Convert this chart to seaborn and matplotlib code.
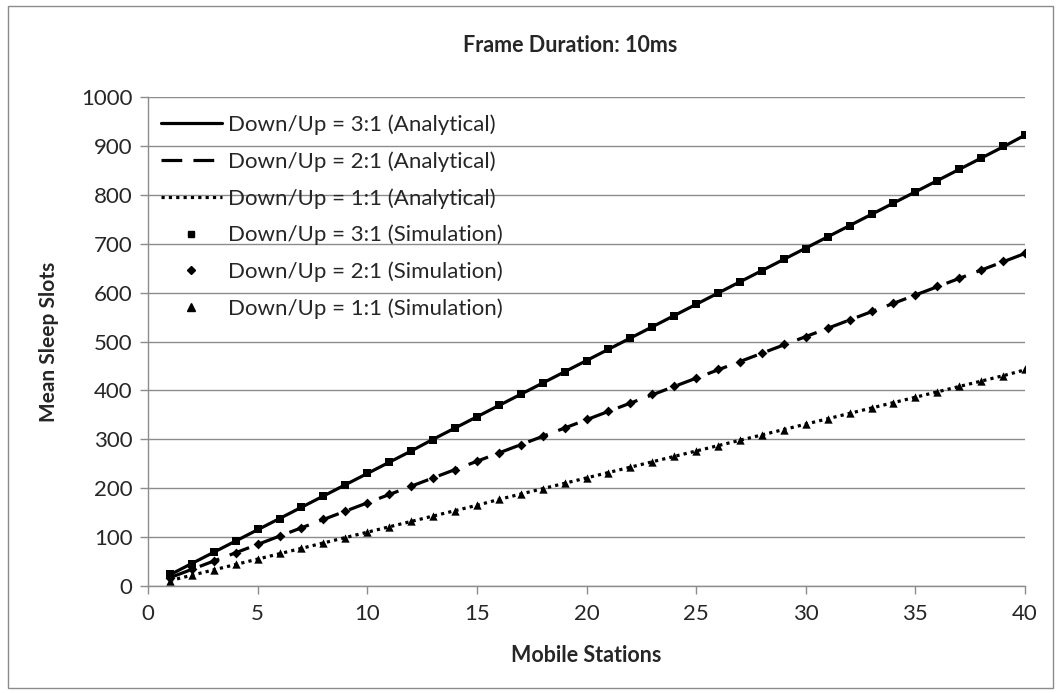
import matplotlib
matplotlib.use("Agg")
import matplotlib.pyplot as plt
import seaborn as sns
import pandas as pd
from matplotlib.patches import Rectangle
from matplotlib.lines import Line2D

stations = list(range(1, 41))
ana_31 = [23, 46, 69, 92, 115, 138, 161, 184, 207, 230, 253, 276, 300, 323, 346, 369, 392, 415, 438, 461,
          484, 507, 530, 553, 576, 599, 622, 645, 668, 691, 714, 737, 760, 783, 806, 829, 852, 875, 898, 922]
ana_21 = [17, 34, 51, 68, 85, 102, 119, 136, 153, 170, 187, 204, 221, 238, 255, 272, 289, 306, 323, 340,
          357, 374, 391, 408, 425, 442, 459, 476, 493, 510, 527, 544, 561, 578, 595, 612, 629, 646, 663, 680]
ana_11 = [11, 22, 33, 44, 55, 66, 77, 88, 99, 110, 121, 132, 143, 154, 165, 177, 188, 199, 210, 221,
          232, 243, 254, 265, 276, 287, 298, 309, 320, 331, 342, 353, 364, 375, 386, 397, 408, 419, 430, 442]
sim_31 = [24, 46, 70, 92, 116, 138, 162, 184, 207, 231, 253, 277, 299, 323, 346, 370, 392, 415, 437, 461,
          484, 508, 529, 553, 577, 599, 621, 645, 668, 690, 714, 737, 760, 783, 805, 829, 852, 876, 899, 922]
sim_21 = [17, 34, 52, 68, 86, 102, 119, 137, 153, 170, 188, 204, 221, 238, 256, 272, 289, 307, 323, 341,
          357, 374, 392, 408, 425, 443, 459, 476, 494, 510, 527, 544, 562, 578, 595, 613, 629, 646, 664, 681]
sim_11 = [11, 22, 33, 44, 55, 67, 77, 88, 99, 111, 121, 133, 143, 154, 165, 177, 188, 199, 210, 221,
          232, 244, 254, 265, 276, 287, 299, 309, 320, 331, 342, 353, 365, 375, 386, 397, 408, 420, 430, 443]

labels_ana = ["Down/Up = 3:1 (Analytical)", "Down/Up = 2:1 (Analytical)", "Down/Up = 1:1 (Analytical)"]
labels_sim = ["Down/Up = 3:1 (Simulation)", "Down/Up = 2:1 (Simulation)", "Down/Up = 1:1 (Simulation)"]

sns.set_theme(style="white")
plt.rcParams['font.family'] = ['Lato', 'DejaVu Sans']

fig = plt.figure(figsize=(10.62, 6.93), dpi=100)
ax = fig.add_axes([148/1062, 1-586/693, (1025-148)/1062, (586-97)/693])
fig.patches.append(Rectangle((8/1062, 5/693), 1045/1062, 682/693, transform=fig.transFigure,
                             fill=False, edgecolor="#8c8c8c", linewidth=1))

LW = 2.3
line_styles = ["-", (0, (6.5, 3.5)), (0, (1, 1.3))]
markers = ["s", "D", "^"]
msizes = [5.5, 5, 6]
ana = [ana_31, ana_21, ana_11]
sim = [sim_31, sim_21, sim_11]

for vals, lab, ls in zip(ana, labels_ana, line_styles):
    df = pd.DataFrame({"x": stations, "y": vals})
    sns.lineplot(data=df, x="x", y="y", ax=ax, color="black", linewidth=LW, linestyle=ls,
                 label=lab, legend=False)
for vals, lab, m, s in zip(sim, labels_sim, markers, msizes):
    df = pd.DataFrame({"x": stations, "y": vals})
    sns.scatterplot(data=df, x="x", y="y", ax=ax, color="black", marker=m, s=s**2,
                    linewidth=0, label=lab, legend=False, zorder=5)

ax.set_xlim(0, 40)
ax.set_ylim(0, 1000)
ax.set_xticks(range(0, 41, 5))
ax.set_yticks(range(0, 1001, 100))
ax.yaxis.grid(True, color="#8c8c8c", linewidth=1)
ax.xaxis.grid(False)
for s in ["top", "right"]:
    ax.spines[s].set_visible(False)
for s in ["left", "bottom"]:
    ax.spines[s].set_color("#8c8c8c")
    ax.spines[s].set_linewidth(1)
ax.tick_params(axis="x", bottom=True, length=6, width=1, color="#8c8c8c", labelsize=16, pad=7)
ax.tick_params(axis="y", left=True, length=6, width=1, color="#8c8c8c", labelsize=16, pad=5)
ax.set_xlabel("Mobile Stations", fontsize=15.5, fontweight="bold", labelpad=15)
ax.set_ylabel("Mean Sleep Slots", fontsize=15, fontweight="bold", labelpad=16)
fig.text(570/1062, 1 - 45/693, "Frame Duration: 10ms", ha="center", va="center",
         fontsize=15.5, fontweight="bold")

handles = [Line2D([], [], color="black", linewidth=LW, linestyle=ls) for ls in line_styles]
handles += [Line2D([], [], color="black", linestyle="none", marker=m, markersize=s * 0.85)
            for m, s in zip(markers, msizes)]
leg = ax.legend(handles, labels_ana + labels_sim, loc="upper left", bbox_to_anchor=(0.003, 0.985),
                frameon=False, fontsize=16, handlelength=2.75, labelspacing=0.73,
                handletextpad=0.3, borderpad=0.25, borderaxespad=0.2)

fig.savefig("out.png", dpi=100)
